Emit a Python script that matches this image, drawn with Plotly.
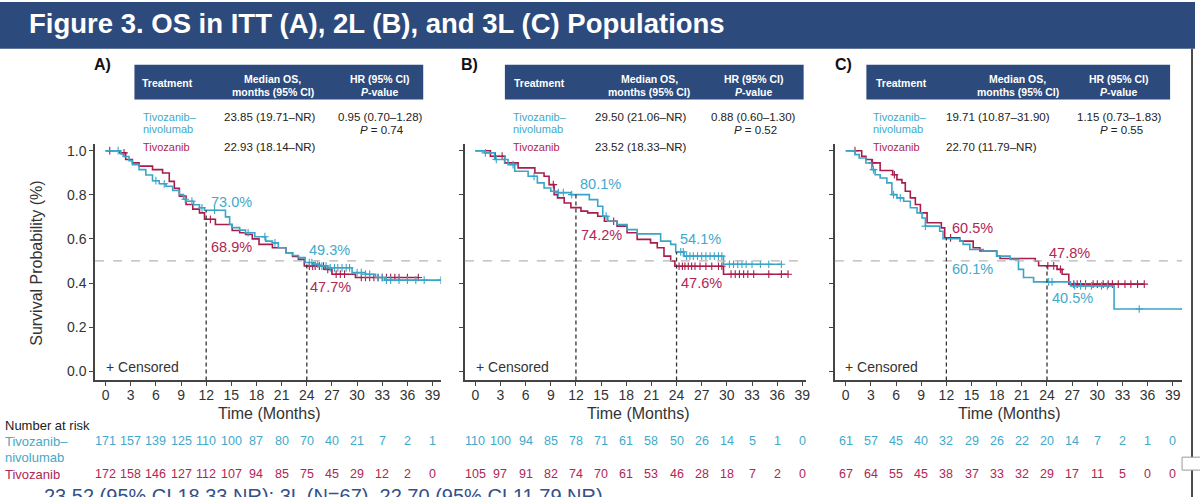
import plotly.graph_objects as go
import bisect

# ---------------- DATA ----------------
month_ticks = list(range(0, 40, 3))
y_ticks = [0.0, 0.2, 0.4, 0.6, 0.8, 1.0]
y_ticklabels = ["0.0", "0.2", "0.4", "0.6", "0.8", "1.0"]

arm_names = ["Tivozanib–nivolumab", "Tivozanib"]

# Panel A (ITT) Kaplan–Meier step points: time (months), survival probability
a_tn_time = [0, 1.8, 2.1, 2.8, 3.2, 4.0, 4.8, 5.6, 6.4, 7.2, 8.0, 8.8, 9.3, 9.6, 10.5, 11.2, 11.8,
             14.3, 14.8, 15.1, 16.0, 16.7, 17.8, 19.1, 19.9, 20.6, 21.5, 22.3, 23.0, 23.8, 24.8,
             25.4, 26.5, 29.4, 31.0, 32.2, 33.3, 40.0]
a_tn_surv = [1.0, 0.985, 0.974, 0.955, 0.937, 0.914, 0.89, 0.864, 0.85, 0.839, 0.82, 0.801, 0.78,
             0.771, 0.755, 0.741, 0.730, 0.70, 0.665, 0.651, 0.64, 0.628, 0.61, 0.59, 0.582, 0.56,
             0.537, 0.525, 0.515, 0.493, 0.485, 0.477, 0.469, 0.447, 0.44, 0.425, 0.413, 0.413]
a_tn_cens = [1.5, 6.0, 7.0, 9.5, 10.3, 11.5, 13.0, 17.0, 19.0, 20.2, 24.3, 24.6, 25.0, 25.3, 25.8,
             26.3, 26.8, 27.3, 27.7, 28.2, 28.7, 29.1, 30.0, 30.5, 31.0, 31.5, 32.5, 33.0, 33.5,
             34.0, 35.0, 36.0, 37.0, 38.0, 40.0]
a_t_time = [0, 1.7, 2.4, 3.2, 4.0, 5.6, 6.8, 7.6, 8.2, 8.8, 9.6, 10.4, 11.2, 11.8, 13.1, 15.1, 16.0,
            16.7, 17.5, 18.3, 19.9, 21.5, 22.3, 23.0, 23.7, 26.2, 27.0, 29.8, 37.3]
a_t_surv = [1.0, 0.99, 0.96, 0.945, 0.93, 0.914, 0.899, 0.861, 0.83, 0.794, 0.756, 0.735, 0.718,
            0.689, 0.665, 0.638, 0.628, 0.62, 0.60, 0.575, 0.56, 0.537, 0.52, 0.507, 0.477, 0.462,
            0.44, 0.425, 0.425]
a_t_cens = [0.5, 2.2, 12.5, 24.3, 24.7, 25.0, 25.5, 26.0, 26.5, 27.5, 28.0, 28.5, 30.5, 31.0, 31.5,
            32.0, 32.5, 33.0, 33.5, 34.0, 34.5, 35.0, 36.0, 37.3]

# Panel B (2L)
b_tn_time = [0, 1.1, 2.3, 3.9, 4.7, 6.3, 7.4, 8.2, 9.0, 9.8, 11.4, 13.6, 14.6, 15.2, 15.8, 16.9,
             18.1, 19.3, 22.1, 23.3, 23.9, 24.9, 29.6, 36.5]
b_tn_surv = [1.0, 0.99, 0.96, 0.937, 0.907, 0.884, 0.854, 0.831, 0.816, 0.81, 0.801, 0.778, 0.748,
             0.703, 0.68, 0.665, 0.642, 0.623, 0.59, 0.575, 0.541, 0.522, 0.485, 0.485]
b_tn_cens = [1.2, 2.5, 3.5, 4.5, 7.0, 9.9, 10.5, 11.5, 15.6, 24.5, 24.8, 25.2, 25.6, 26.0, 26.5,
             27.0, 27.5, 28.0, 28.5, 29.0, 29.4, 30.3, 30.8, 31.3, 31.8, 32.3, 33.0, 34.0, 35.0, 36.5]
b_t_time = [0, 1.8, 3.5, 5.1, 7.1, 8.2, 8.8, 9.4, 9.8, 10.6, 11.4, 12.6, 13.4, 14.6, 15.4, 16.9,
            18.1, 19.3, 20.9, 21.7, 22.5, 23.3, 23.8, 29.6, 37.3]
b_t_surv = [1.0, 0.975, 0.945, 0.922, 0.899, 0.884, 0.846, 0.801, 0.786, 0.763, 0.742, 0.726, 0.718,
            0.703, 0.68, 0.658, 0.628, 0.598, 0.582, 0.56, 0.522, 0.50, 0.476, 0.44, 0.44]
b_t_cens = [2.4, 3.2, 9.3, 16.5, 24.3, 24.7, 25.0, 25.4, 25.8, 26.2, 26.8, 27.5, 28.2, 29.0, 29.4,
            30.5, 31.0, 31.5, 32.0, 32.5, 33.2, 35.0, 36.5, 37.3]

# Panel C (3L)
c_tn_time = [0, 1.1, 1.6, 2.4, 3.1, 3.5, 4.1, 4.9, 5.5, 6.1, 6.9, 7.7, 8.5, 9.1, 9.5, 11.2, 11.6,
             13.6, 14.0, 14.8, 16.4, 18.0, 19.6, 20.6, 21.2, 22.4, 26.8, 32.0, 40.4]
c_tn_surv = [1.0, 0.982, 0.967, 0.944, 0.914, 0.891, 0.876, 0.854, 0.801, 0.786, 0.771, 0.741, 0.718,
             0.695, 0.658, 0.635, 0.601, 0.59, 0.575, 0.552, 0.545, 0.522, 0.507, 0.462, 0.425,
             0.405, 0.387, 0.282, 0.282]
c_tn_cens = [3.3, 5.7, 6.5, 9.5, 24.2, 24.6, 27.3, 28.0, 28.6, 29.3, 30.5, 31.2, 35.0, 40.4]
c_t_time = [0, 1.9, 2.4, 3.1, 4.1, 5.6, 6.1, 6.7, 7.1, 7.7, 8.3, 8.9, 9.7, 11.4, 11.8, 13.6, 15.2,
            16.0, 18.0, 18.4, 22.6, 23.0, 25.2, 25.8, 26.6, 35.6]
c_t_surv = [1.0, 0.975, 0.96, 0.945, 0.91, 0.891, 0.869, 0.854, 0.816, 0.786, 0.756, 0.718, 0.673,
            0.65, 0.605, 0.59, 0.56, 0.545, 0.522, 0.511, 0.50, 0.478, 0.462, 0.44, 0.395, 0.395]
c_t_cens = [1.1, 3.2, 5.8, 12.5, 24.1, 24.8, 25.6, 27.2, 27.6, 28.0, 28.6, 29.5, 30.0, 30.7, 31.3,
            31.8, 32.5, 33.3, 34.0, 34.8, 35.6]

# Landmark survival rates at 12 and 24 months
landmark_months = [12, 24]
a_land_tn = [0.730, 0.493]
a_land_t = [0.689, 0.477]
b_land_tn = [0.801, 0.541]
b_land_t = [0.742, 0.476]
c_land_tn = [0.601, 0.405]
c_land_t = [0.605, 0.478]

# Number at risk
a_risk_tn = [171, 157, 139, 125, 110, 100, 87, 80, 70, 40, 21, 7, 2, 1]
a_risk_t = [172, 158, 146, 127, 112, 107, 94, 85, 75, 45, 29, 12, 2, 0]
b_risk_tn = [110, 100, 94, 85, 78, 71, 61, 58, 50, 26, 14, 5, 1, 0]
b_risk_t = [105, 97, 91, 82, 74, 70, 61, 53, 46, 28, 18, 7, 2, 0]
c_risk_tn = [61, 57, 45, 40, 32, 29, 26, 22, 20, 14, 7, 2, 1, 0]
c_risk_t = [67, 64, 55, 45, 38, 37, 33, 32, 29, 17, 11, 5, 0, 0]

# Tables
a_median = ["23.85 (19.71–NR)", "22.93 (18.14–NR)"]
a_hr = ["0.95 (0.70–1.28)", "0.74"]
b_median = ["29.50 (21.06–NR)", "23.52 (18.33–NR)"]
b_hr = ["0.88 (0.60–1.30)", "0.52"]
c_median = ["19.71 (10.87–31.90)", "22.70 (11.79–NR)"]
c_hr = ["1.15 (0.73–1.83)", "0.55"]

panel_letters = ["A)", "B)", "C)"]
title_text = "Figure 3. OS in ITT (A), 2L (B), and 3L (C) Populations"
footer_text = "23.52 (95% CI 18.33 NR); 3L (N=67), 22.70 (95% CI 11.79 NR)"

# ---------------- LAYOUT CONSTANTS ----------------
W, H = 1200, 497
def px(x):
    return x / W
def py(y):
    return (H - y) / H

TEAL = "#3ba5c8"
TEAL_T = "#42a9ca"
CRIM = "#a81d4b"
CRIM_T = "#b02654"
NAVY = "#2d4a7d"
AXC = "#444444"
TXT = "#333333"
FONT = "Liberation Sans, Arial, sans-serif"

PPM = 8.42
Y_LO, Y_HI = -0.042, 1.0285
Y_DOM = [py(380), py(143)]

panels = [
    dict(sfx="", zero=106.0, left=95.5, right=443.0,
         tn=(a_tn_time, a_tn_surv, a_tn_cens), t=(a_t_time, a_t_surv, a_t_cens),
         land=(a_land_tn, a_land_t), risk=(a_risk_tn, a_risk_t),
         med=a_median, hr=a_hr,
         table=dict(x0=135, x1=425, c_treat=168, c_med=274, c_hr=382, lab=142, med=223),
         letter_x=103, cens_x=104,
         labels=[(12.3, 0.768, "tn", 0), (12.3, 0.563, "t", 0), (24.0, 0.551, "tn", 1), (24.2, 0.384, "t", 1)]),
    dict(sfx="2", zero=477.3, left=466.8, right=809.0,
         tn=(b_tn_time, b_tn_surv, b_tn_cens), t=(b_t_time, b_t_surv, b_t_cens),
         land=(b_land_tn, b_land_t), risk=(b_risk_tn, b_risk_t),
         med=b_median, hr=b_hr,
         table=dict(x0=507, x1=807, c_treat=542, c_med=652, c_hr=757, lab=513, med=595),
         letter_x=471, cens_x=475.5,
         labels=[(12.3, 0.847, "tn", 0), (12.4, 0.617, "t", 0), (24.2, 0.600, "tn", 1), (24.3, 0.402, "t", 1)]),
    dict(sfx="3", zero=849.3, left=838.3, right=1187.0,
         tn=(c_tn_time, c_tn_surv, c_tn_cens), t=(c_t_time, c_t_surv, c_t_cens),
         land=(c_land_tn, c_land_t), risk=(c_risk_tn, c_risk_t),
         med=c_median, hr=c_hr,
         table=dict(x0=870, x1=1175, c_treat=905, c_med=1022, c_hr=1124, lab=875, med=948),
         letter_x=847, cens_x=847,
         labels=[(12.4, 0.462, "tn", 0), (12.4, 0.648, "t", 0), (24.4, 0.334, "tn", 1), (24.0, 0.538, "t", 1)]),
]


def step_value(times, surv, t):
    i = bisect.bisect_right(times, t) - 1
    return surv[max(i, 0)]


fig = go.Figure()
shapes = []
annots = []

def ann(x, y, text, size, color=TXT, xanchor="center", xref="paper", yref="paper", **kw):
    annots.append(dict(x=x, y=y, text=text, xref=xref, yref=yref, showarrow=False,
                       xanchor=xanchor, yanchor=kw.pop("yanchor", "middle"),
                       font=dict(family=FONT, size=size, color=color), **kw))

# Title bar
shapes.append(dict(type="rect", xref="paper", yref="paper", x0=0, x1=1, y0=py(47), y1=1,
                   fillcolor=NAVY, line=dict(width=0), layer="below"))
ann(px(27), py(22), "<b>" + title_text + "</b>", 27.5, "white", xanchor="left")

for k, p in enumerate(panels):
    xa = "x" + p["sfx"]
    ya = "y" + p["sfx"]
    xr = [(p["left"] - p["zero"]) / PPM, (p["right"] - p["zero"]) / PPM]
    fig.layout["xaxis" + p["sfx"]] = dict(
        domain=[px(p["left"]), px(p["right"])], range=xr, anchor=ya,
        tickmode="array", tickvals=month_ticks, ticks="outside", ticklen=4, tickwidth=1.2,
        tickcolor=AXC, showline=True, linecolor=AXC, linewidth=1.5, showgrid=False,
        zeroline=False, tickfont=dict(family=FONT, size=14, color=TXT), fixedrange=True,
        ticklabelstandoff=-3)
    fig.layout["yaxis" + p["sfx"]] = dict(
        domain=Y_DOM, range=[Y_LO, Y_HI], anchor=xa,
        tickmode="array", tickvals=y_ticks, ticktext=y_ticklabels, ticks="outside", ticklen=4,
        tickwidth=1.2, tickcolor=AXC, showline=True, linecolor=AXC, linewidth=1.5,
        showgrid=False, zeroline=False, showticklabels=(k == 0),
        tickfont=dict(family=FONT, size=14, color=TXT), fixedrange=True)

    # 50% reference line
    shapes.append(dict(type="line", xref=xa + " domain", yref=ya, x0=0, x1=1, y0=0.5, y1=0.5,
                       line=dict(color="#b5b5b5", width=1.2, dash="dash")))
    # Landmark vertical lines
    for j, m in enumerate(landmark_months):
        top = max(p["land"][0][j], p["land"][1][j])
        shapes.append(dict(type="line", xref=xa, yref=ya, x0=m, x1=m, y0=Y_LO, y1=top,
                           line=dict(color="#333333", width=1.3, dash="4px,3px")))

    # Curves
    for arm, color in (("t", CRIM), ("tn", TEAL)):
        times, surv, cens = p[arm]
        fig.add_trace(go.Scatter(x=times, y=surv, mode="lines", line=dict(color=color, width=1.6, shape="hv"),
                                 xaxis=xa, yaxis=ya, showlegend=False, hoverinfo="skip"))
        fig.add_trace(go.Scatter(x=cens, y=[step_value(times, surv, c) for c in cens], mode="markers",
                                 marker=dict(symbol="cross-thin", size=5.5, line=dict(color=color, width=1.1)),
                                 xaxis=xa, yaxis=ya, showlegend=False, hoverinfo="skip"))

    # Landmark percent labels
    for (lx, lyv, arm, j) in p["labels"]:
        val = p["land"][0][j] if arm == "tn" else p["land"][1][j]
        ann(lx, lyv, f"{val*100:.1f}%", 14.5, TEAL_T if arm == "tn" else CRIM_T,
            xanchor="left", xref=xa, yref=ya)

    # Censored legend
    ann(px(p["cens_x"]), 0.02, "+ Censored", 14, TXT, xanchor="left", yref=ya)

    # X axis title
    ann(19.5, py(413), "Time (Months)", 16, TXT, xref=xa)

    # Panel letter
    ann(px(p["letter_x"]), py(63), "<b>" + panel_letters[k] + "</b>", 16, "#111111")

    # Table
    tb = p["table"]
    shapes.append(dict(type="rect", xref="paper", yref="paper", x0=px(tb["x0"]), x1=px(tb["x1"]),
                       y0=py(98), y1=py(63), fillcolor=NAVY, line=dict(width=0)))
    ann(px(tb["c_treat"]), py(81), "<b>Treatment</b>", 10.5, "white")
    ann(px(tb["c_med"]), py(77.5), "<b>Median OS,</b>", 10.5, "white")
    ann(px(tb["c_med"]), py(90), "<b>months (95% CI)</b>", 10.5, "white")
    ann(px(tb["c_hr"]), py(77.5), "<b>HR (95% CI)</b>", 10.5, "white")
    ann(px(tb["c_hr"]), py(90), "<b><i>P</i>-value</b>", 10.5, "white")
    ann(px(tb["lab"]), py(115.5), "Tivozanib–", 11, TEAL_T, xanchor="left")
    ann(px(tb["lab"]), py(128), "nivolumab", 11, TEAL_T, xanchor="left")
    ann(px(tb["lab"]), py(146), "Tivozanib", 11, CRIM_T, xanchor="left")
    ann(px(tb["med"]), py(115.5), p["med"][0], 11.5, "#222222", xanchor="left")
    ann(px(tb["med"]), py(146), p["med"][1], 11.5, "#222222", xanchor="left")
    ann(px(tb["c_hr"]), py(115.5), p["hr"][0], 11.5, "#222222")
    ann(px(tb["c_hr"] + 2), py(128.5), "<i>P</i> = " + p["hr"][1], 11.5, "#222222")

    # Number at risk
    for j, m in enumerate(month_ticks):
        ann(m, py(441), str(p["risk"][0][j]), 12.5, TEAL_T, xref=xa)
        ann(m, py(474), str(p["risk"][1][j]), 12.5, CRIM_T, xref=xa)

# Y axis title
ann(px(37), py(262), "Survival Probability (%)", 16, TXT, textangle=-90)

# Number at risk labels
ann(px(3), py(425), "Number at risk", 13, "#222222", xanchor="left")
ann(px(3), py(441), "Tivozanib–", 13, TEAL_T, xanchor="left")
ann(px(3), py(457), "nivolumab", 13, TEAL_T, xanchor="left")
ann(px(3), py(474), "Tivozanib", 13, CRIM_T, xanchor="left")

# Footer (text cropped by the bottom edge, as in the source image)
ann(px(42), py(495.5), footer_text, 20, "#34508a", xanchor="left")

# Right border and small box
shapes.append(dict(type="line", xref="paper", yref="paper", x0=px(1197), x1=px(1197), y0=0, y1=py(47),
                   line=dict(color="#4a4a4a", width=2)))
shapes.append(dict(type="rect", xref="paper", yref="paper", x0=px(1187), x1=px(1212), y0=py(470), y1=py(457),
                   fillcolor="white", line=dict(color="#9a9a9a", width=1)))

fig.update_layout(width=W, height=H, margin=dict(l=0, r=0, t=0, b=0),
                  paper_bgcolor="white", plot_bgcolor="white",
                  shapes=shapes, annotations=annots, showlegend=False,
                  font=dict(family=FONT))

fig.write_html("out.html", config={"displayModeBar": False})
